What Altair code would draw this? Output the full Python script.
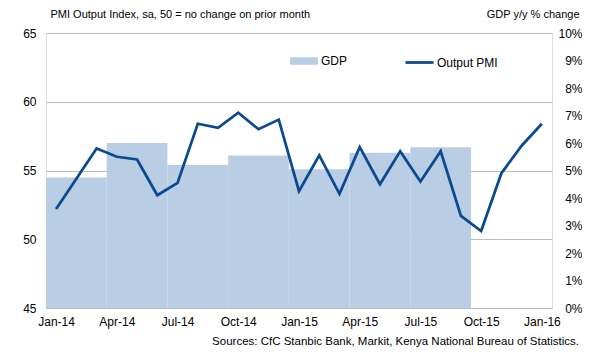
import json
import altair as alt
import pandas as pd

# ---------------- data ----------------
months = ["Jan-14", "Feb-14", "Mar-14", "Apr-14", "May-14", "Jun-14", "Jul-14", "Aug-14",
          "Sep-14", "Oct-14", "Nov-14", "Dec-14", "Jan-15", "Feb-15", "Mar-15", "Apr-15",
          "May-15", "Jun-15", "Jul-15", "Aug-15", "Sep-15", "Oct-15", "Nov-15", "Dec-15",
          "Jan-16"]
pmi = [52.2, 54.4, 56.6, 56.0, 55.8, 53.2, 54.1, 58.4, 58.1, 59.2, 58.0, 58.7,
       53.5, 56.1, 53.3, 56.7, 54.0, 56.4, 54.2, 56.4, 51.7, 50.6, 54.8, 56.8, 58.4]
quarters = ["Q1-14", "Q2-14", "Q3-14", "Q4-14", "Q1-15", "Q2-15", "Q3-15"]
gdp = [4.75, 6.0, 5.2, 5.55, 5.05, 5.65, 5.85]
x_tick_labels = ["Jan-14", "Apr-14", "Jul-14", "Oct-14", "Jan-15", "Apr-15",
                 "Jul-15", "Oct-15", "Jan-16"]
left_ticks = [45, 50, 55, 60, 65]
right_ticks = [0, 1, 2, 3, 4, 5, 6, 7, 8, 9, 10]

# ---------------- styling ----------------
FONT = "Liberation Sans"
BAR = "#B9CDE5"
LINE = "#0B4A8E"
GRID = "#BFBFBF"
TXT = "#000000"

line_df = pd.DataFrame({"i": list(range(len(months))), "month": months,
                        "pmi": pmi, "series": "Output PMI"})
bar_df = pd.DataFrame({"q": list(range(len(quarters))), "quarter": quarters,
                       "gdp": gdp, "series": "GDP"})

x_scale = alt.Scale(domain=[-0.5, len(months) - 0.5], nice=False, zero=False)
x_axis = alt.Axis(
    values=[months.index(m) for m in x_tick_labels],
    labelExpr=json.dumps(months) + "[datum.value]",
    title=None, grid=False, ticks=False, tickSize=0,
    domain=True, domainColor=GRID, domainWidth=1,
    labelFont=FONT, labelFontSize=12, labelColor=TXT, labelPadding=8,
    labelFlush=False,
)

bars = alt.Chart(bar_df).transform_calculate(
    start="datum.q * 3 - 0.5", end="datum.q * 3 + 2.5"
).mark_rect(opacity=1).encode(
    x=alt.X("start:Q", scale=x_scale, axis=x_axis),
    x2="end:Q",
    y=alt.Y("gdp:Q", scale=alt.Scale(domain=[0, 10], nice=False, zero=True),
            axis=alt.Axis(
                orient="right", values=right_ticks,
                labelExpr="datum.value + '%'",
                grid=False, domain=False, ticks=False, tickSize=0,
                labelFont=FONT, labelFontSize=12, labelColor=TXT,
                labelAlign="right", labelPadding=30, labelBaseline="middle",
                title="GDP y/y % change", titleAngle=0, titleAlign="right",
                titleBaseline="middle", titleX=27, titleY=-19,
                titleFont=FONT, titleFontSize=11, titleFontWeight="normal",
                titleColor=TXT,
            )),
    y2=alt.datum(0),
    fill=alt.Fill("series:N",
                  scale=alt.Scale(domain=["GDP"], range=[BAR]),
                  legend=alt.Legend(
                      orient="none", legendX=244, legendY=14, title=None,
                      padding=0, symbolType="M-1,-0.27H1V0.27H-1Z",
                      symbolSize=784, symbolStrokeWidth=0, symbolOpacity=1,
                      labelFont=FONT, labelFontSize=12, labelColor=TXT,
                      labelOffset=3,
                  )),
)

line = alt.Chart(line_df).mark_line(strokeWidth=2.75, strokeJoin="miter").encode(
    x=alt.X("i:Q", scale=x_scale, axis=x_axis),
    y=alt.Y("pmi:Q", scale=alt.Scale(domain=[45, 65], nice=False, zero=False),
            axis=alt.Axis(
                orient="left", values=left_ticks,
                grid=True, gridColor=GRID, gridWidth=1,
                domain=False, ticks=False, tickSize=0,
                labelFont=FONT, labelFontSize=12, labelColor=TXT,
                labelPadding=10,
                title="PMI Output Index, sa, 50 = no change on prior month",
                titleAngle=0, titleAlign="left", titleBaseline="middle",
                titleX=4, titleY=-19,
                titleFont=FONT, titleFontSize=11, titleFontWeight="normal",
                titleColor=TXT,
            )),
    stroke=alt.Stroke("series:N",
                      scale=alt.Scale(domain=["Output PMI"], range=[LINE]),
                      legend=alt.Legend(
                          orient="none", legendX=358, legendY=14, title=None,
                          padding=0, symbolType="stroke", symbolSize=784,
                          symbolStrokeWidth=2.75,
                          labelFont=FONT, labelFontSize=12, labelColor=TXT,
                          labelOffset=2,
                      )),
)

chart = alt.layer(bars, line).resolve_scale(
    y="independent", fill="independent", stroke="independent"
).properties(
    width=506, height=275,
    autosize=alt.AutoSizeParams(type="none"),
    padding={"left": 38, "top": 25, "right": 30, "bottom": 40},
    title=alt.TitleParams(
        "Sources: CfC Stanbic Bank, Markit, Kenya National Bureau of Statistics.",
        orient="bottom", anchor="end", frame="group", dx=27, offset=9,
        font=FONT, fontSize=11.5, fontWeight="normal", color=TXT,
    ),
).configure_view(stroke=None).configure(background="white")

chart.save("out.html", embed_options={"renderer": "svg", "actions": False})
